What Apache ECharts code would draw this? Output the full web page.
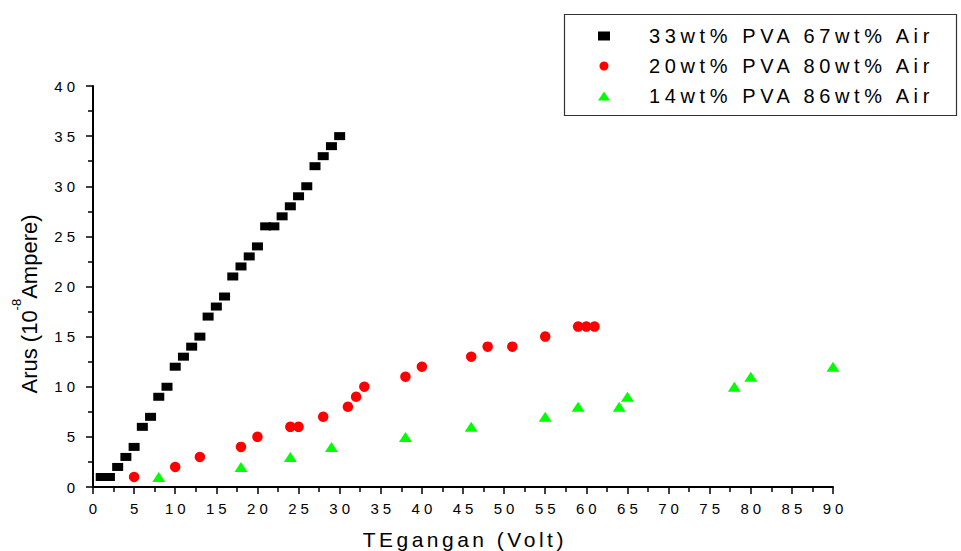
<!DOCTYPE html>
<html>
<head>
<meta charset="utf-8">
<script src="https://cdn.jsdelivr.net/npm/echarts@6/dist/echarts.min.js"></script>
<style>
  html, body { margin: 0; padding: 0; background: #fff; overflow: hidden; }
  #chart { width: 961px; height: 551px; }
  /* letter-spaced texts, as in the reference */
  #chart text[style*="15px"] { letter-spacing: 4px; }
  #chart text[style*="20px"] { letter-spacing: 4.6px; }
  #chart text[style*="21px"] { letter-spacing: 3.5px; }
</style>
</head>
<body>
<div id="chart"></div>
<script>
// ---- data ----
const seriesNames = ['33wt% PVA 67wt% Air', '20wt% PVA 80wt% Air', '14wt% PVA 86wt% Air'];

const volt33 = [1, 2, 3, 4, 5, 6, 7, 8, 9, 10, 11, 12, 13, 14, 15, 16, 17, 18, 19, 20, 21, 22, 23, 24, 25, 26, 27, 28, 29, 30];
const arus33 = [1, 1, 2, 3, 4, 6, 7, 9, 10, 12, 13, 14, 15, 17, 18, 19, 21, 22, 23, 24, 26, 26, 27, 28, 29, 30, 32, 33, 34, 35];

const volt20 = [5, 10, 13, 18, 20, 24, 25, 28, 31, 32, 33, 38, 40, 46, 48, 51, 55, 59, 60, 61];
const arus20 = [1, 2, 3, 4, 5, 6, 6, 7, 8, 9, 10, 11, 12, 13, 14, 14, 15, 16, 16, 16];

const volt14 = [8, 18, 24, 29, 38, 46, 55, 59, 64, 65, 78, 80, 90];
const arus14 = [1, 2, 3, 4, 5, 6, 7, 8, 8, 9, 10, 11, 12];

const xTicks = { min: 0, max: 90, interval: 5 };
const yTicks = { min: 0, max: 40, interval: 5 };

const xName = 'TEgangan (Volt)';
const yName = '{a|Arus (10}{s|-8}{a|Ampere)}';

function pairs(xs, ys) { return xs.map((x, i) => [x, ys[i]]); }

const FONT = 'Liberation Sans, Arial, sans-serif';

const chart = echarts.init(document.getElementById('chart'), null, { renderer: 'svg', width: 961, height: 551 });

const axisCommon = {
  axisLine: { show: true, onZero: false, lineStyle: { color: '#000', width: 2 } },
  axisTick: { show: true, inside: false, length: 7, lineStyle: { color: '#000', width: 1.5 } },
  minorTick: { show: true, splitNumber: 2, length: 5, lineStyle: { color: '#000', width: 1.5 } },
  splitLine: { show: false },
  minorSplitLine: { show: false }
};

chart.setOption({
  animation: false,
  backgroundColor: '#fff',
  grid: { left: 93, right: 128, top: 86, bottom: 64, containLabel: false, outerBoundsMode: 'none' },
  graphic: [{
    type: 'rect', z: 0, silent: true,
    shape: { x: 564.5, y: 14.5, width: 392, height: 101 },
    style: { fill: 'none', stroke: '#333', lineWidth: 1.2 }
  }],
  legend: {
    orient: 'vertical',
    left: 598, top: 26,
    padding: 0,
    itemWidth: 12, itemHeight: 9,
    itemGap: 10,
    data: seriesNames,
    textStyle: { fontFamily: FONT, fontSize: 20, lineHeight: 20, color: '#000', padding: [0, 0, 0, 34] }
  },
  xAxis: Object.assign({
    type: 'value',
    min: xTicks.min, max: xTicks.max, interval: xTicks.interval,
    name: xName,
    nameLocation: 'middle',
    nameGap: 42,
    nameTextStyle: { fontFamily: FONT, fontSize: 21, color: '#000', padding: [0, 0, 0, 3.5] },
    axisLabel: { fontFamily: FONT, fontSize: 15, color: '#000', margin: 14, padding: [0, 0, 0, 4] }
  }, axisCommon),
  yAxis: Object.assign({
    type: 'value',
    min: yTicks.min, max: yTicks.max, interval: yTicks.interval,
    name: yName,
    nameLocation: 'middle',
    nameRotate: 90,
    nameGap: 53,
    nameTextStyle: {
      fontFamily: FONT, color: '#000', padding: [0, 35, 0, 0],
      rich: {
        a: { fontFamily: FONT, fontSize: 22, color: '#000', lineHeight: 30, verticalAlign: 'bottom' },
        s: { fontFamily: FONT, fontSize: 13, color: '#000', lineHeight: 30, verticalAlign: 'top' }
      }
    },
    axisLabel: { fontFamily: FONT, fontSize: 15, color: '#000', margin: 14 }
  }, axisCommon),
  series: [
    { name: seriesNames[0], type: 'scatter', symbol: 'rect', symbolSize: [11, 8],
      itemStyle: { color: '#000000', opacity: 1 }, data: pairs(volt33, arus33) },
    { name: seriesNames[1], type: 'scatter', symbol: 'circle', symbolSize: 10.5,
      itemStyle: { color: '#ff0000', opacity: 1 }, data: pairs(volt20, arus20) },
    { name: seriesNames[2], type: 'scatter', symbol: 'triangle', symbolSize: [13, 10],
      itemStyle: { color: '#00ff00', opacity: 1 }, data: pairs(volt14, arus14) }
  ]
});
</script>
</body>
</html>
